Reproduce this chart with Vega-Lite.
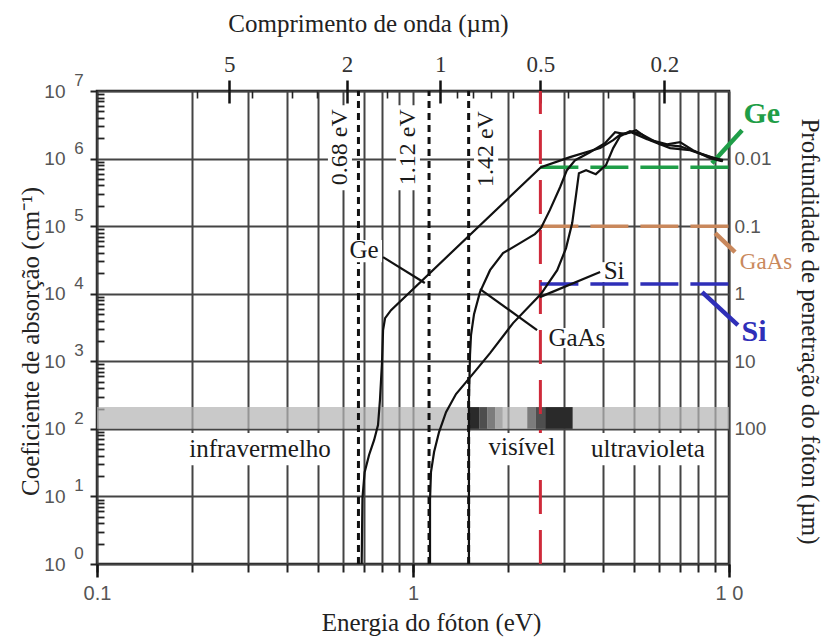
{
  "$schema": "https://vega.github.io/schema/vega-lite/v6.json",
  "width": 632,
  "height": 473,
  "autosize": {"type": "none"},
  "padding": {"left": 97, "top": 91, "right": 97, "bottom": 74},
  "background": "white",
  "config": {"view": {"stroke": "#1a1a1a", "strokeWidth": 2.5}},
  "resolve": {"axis": {"x": "independent", "y": "independent"}},
  "datasets": {
    "band": [{"E1": 0.1, "E2": 10, "a1": 100, "a2": 210}],
    "bandDark": [
      {"E1": 1.5, "E2": 1.62, "a1": 100, "a2": 210, "t": "4"},
      {"E1": 1.62, "E2": 1.72, "a1": 100, "a2": 210, "t": "3"},
      {"E1": 1.72, "E2": 1.82, "a1": 100, "a2": 210, "t": "2"},
      {"E1": 1.82, "E2": 1.92, "a1": 100, "a2": 210, "t": "1"},
      {"E1": 2.3, "E2": 2.45, "a1": 100, "a2": 210, "t": "2"},
      {"E1": 2.45, "E2": 2.62, "a1": 100, "a2": 210, "t": "3"},
      {"E1": 2.62, "E2": 3.2, "a1": 100, "a2": 210, "t": "4"}
    ],
    "gaps": [{"E": 0.672}, {"E": 1.124}, {"E": 1.5}],
    "red": [{"E": 2.53}],
    "mask": [
      {"E1": 0.187, "E2": 0.583, "a1": 29, "a2": 87},
      {"E1": 1.69, "E2": 2.92, "a1": 29, "a2": 87},
      {"E1": 3.5, "E2": 8.83, "a1": 29, "a2": 87},
      {"E1": 0.538, "E2": 0.641, "a1": 341000, "a2": 6170000},
      {"E1": 0.884, "E2": 1.052, "a1": 341000, "a2": 6170000},
      {"E1": 1.56, "E2": 1.86, "a1": 341000, "a2": 6170000},
      {"E1": 0.614, "E2": 0.798, "a1": 29300, "a2": 62100},
      {"E1": 2.62, "E2": 4.14, "a1": 1570, "a2": 3100},
      {"E1": 3.91, "E2": 4.79, "a1": 14900, "a2": 29300}
    ],
    "depth": [
      {"mat": "Ge", "E1": 2.53, "E2": 10, "a": 746000},
      {"mat": "GaAs", "E1": 2.53, "E2": 10, "a": 100000},
      {"mat": "Si", "E1": 2.53, "E2": 10, "a": 13900}
    ],
    "leadC": [
      {"mat": "Ge", "E1": 8.83, "a1": 855000, "E2": 11.0, "a2": 2630000},
      {"mat": "GaAs", "E1": 9.04, "a1": 78800, "E2": 10.45, "a2": 41200},
      {"mat": "Si", "E1": 8.22, "a1": 10560, "E2": 10.67, "a2": 3430}
    ],
    "labC": [
      {"mat": "Ge", "E": 12.7, "a": 4540000},
      {"mat": "GaAs", "E": 13.1, "a": 29300},
      {"mat": "Si", "E": 12.0, "a": 2700}
    ],
    "leadK": [
      {"E1": 0.804, "a1": 34800, "E2": 1.09, "a2": 14400},
      {"E1": 1.63, "a1": 11700, "E2": 2.47, "a2": 2900},
      {"E1": 2.52, "a1": 8900, "E2": 3.91, "a2": 20900}
    ],
    "labK": [
      {"t": "infravermelho", "E": 0.328, "a": 50},
      {"t": "visível", "E": 2.21, "a": 53.8},
      {"t": "ultravioleta", "E": 5.54, "a": 50},
      {"t": "Ge", "E": 0.7, "a": 44200},
      {"t": "GaAs", "E": 3.3, "a": 2200},
      {"t": "Si", "E": 4.33, "a": 21600}
    ],
    "labEV": [
      {"t": "0.68 eV", "E": 0.588, "a": 1470000},
      {"t": "1.12 eV", "E": 0.964, "a": 1470000},
      {"t": "1.42 eV", "E": 1.7, "a": 1380000}
    ],
    "exps": [
      {"a": 1, "s": "0"}, {"a": 10, "s": "1"}, {"a": 100, "s": "2"}, {"a": 1000, "s": "3"},
      {"a": 10000, "s": "4"}, {"a": 100000, "s": "5"}, {"a": 1000000, "s": "6"}, {"a": 10000000, "s": "7"}
    ],
    "curves": [
      {"mat": "Ge", "i": 1, "E": 0.688, "a": 1},
      {"mat": "Ge", "i": 2, "E": 0.69, "a": 3.18},
      {"mat": "Ge", "i": 3, "E": 0.692, "a": 9.47},
      {"mat": "Ge", "i": 4, "E": 0.703, "a": 22.9},
      {"mat": "Ge", "i": 5, "E": 0.726, "a": 41},
      {"mat": "Ge", "i": 6, "E": 0.753, "a": 68},
      {"mat": "Ge", "i": 7, "E": 0.775, "a": 114},
      {"mat": "Ge", "i": 8, "E": 0.786, "a": 267},
      {"mat": "Ge", "i": 9, "E": 0.798, "a": 973},
      {"mat": "Ge", "i": 10, "E": 0.804, "a": 2900},
      {"mat": "Ge", "i": 11, "E": 0.816, "a": 4360},
      {"mat": "Ge", "i": 12, "E": 0.852, "a": 5720},
      {"mat": "Ge", "i": 13, "E": 2.54, "a": 746000},
      {"mat": "Ge", "i": 14, "E": 3.14, "a": 1050000},
      {"mat": "Ge", "i": 15, "E": 3.91, "a": 1430000},
      {"mat": "Ge", "i": 16, "E": 4.3, "a": 1870000},
      {"mat": "Ge", "i": 17, "E": 4.55, "a": 2300000},
      {"mat": "Ge", "i": 18, "E": 4.9, "a": 2460000},
      {"mat": "Ge", "i": 19, "E": 5.5, "a": 1940000},
      {"mat": "Ge", "i": 20, "E": 6.37, "a": 1630000},
      {"mat": "Ge", "i": 21, "E": 7.0, "a": 1750000},
      {"mat": "Ge", "i": 22, "E": 7.69, "a": 1330000},
      {"mat": "Ge", "i": 23, "E": 8.71, "a": 1010000},
      {"mat": "Ge", "i": 24, "E": 9.5, "a": 916000},
      {"mat": "GaAs", "i": 1, "E": 1.503, "a": 1},
      {"mat": "GaAs", "i": 2, "E": 1.503, "a": 17.5},
      {"mat": "GaAs", "i": 3, "E": 1.503, "a": 267},
      {"mat": "GaAs", "i": 4, "E": 1.515, "a": 1236},
      {"mat": "GaAs", "i": 5, "E": 1.526, "a": 2440},
      {"mat": "GaAs", "i": 6, "E": 1.56, "a": 4990},
      {"mat": "GaAs", "i": 7, "E": 1.629, "a": 10560},
      {"mat": "GaAs", "i": 8, "E": 1.753, "a": 22300},
      {"mat": "GaAs", "i": 9, "E": 1.927, "a": 39900},
      {"mat": "GaAs", "i": 10, "E": 2.18, "a": 56000},
      {"mat": "GaAs", "i": 11, "E": 2.43, "a": 76200},
      {"mat": "GaAs", "i": 12, "E": 2.54, "a": 93400},
      {"mat": "GaAs", "i": 13, "E": 2.71, "a": 172600},
      {"mat": "GaAs", "i": 14, "E": 2.92, "a": 377000},
      {"mat": "GaAs", "i": 15, "E": 3.07, "a": 673000},
      {"mat": "GaAs", "i": 16, "E": 3.26, "a": 947000},
      {"mat": "GaAs", "i": 17, "E": 3.63, "a": 1240000},
      {"mat": "GaAs", "i": 18, "E": 4.05, "a": 1690000},
      {"mat": "GaAs", "i": 19, "E": 4.36, "a": 2460000},
      {"mat": "GaAs", "i": 20, "E": 4.69, "a": 2300000},
      {"mat": "GaAs", "i": 21, "E": 5.08, "a": 2630000},
      {"mat": "GaAs", "i": 22, "E": 5.62, "a": 1870000},
      {"mat": "GaAs", "i": 23, "E": 6.51, "a": 1430000},
      {"mat": "GaAs", "i": 24, "E": 7.53, "a": 1330000},
      {"mat": "GaAs", "i": 25, "E": 8.71, "a": 1050000},
      {"mat": "GaAs", "i": 26, "E": 9.57, "a": 947000},
      {"mat": "Si", "i": 1, "E": 1.132, "a": 1},
      {"mat": "Si", "i": 2, "E": 1.132, "a": 8.85},
      {"mat": "Si", "i": 3, "E": 1.14, "a": 22.9},
      {"mat": "Si", "i": 4, "E": 1.166, "a": 45.4},
      {"mat": "Si", "i": 5, "E": 1.209, "a": 89.7},
      {"mat": "Si", "i": 6, "E": 1.272, "a": 177},
      {"mat": "Si", "i": 7, "E": 1.368, "a": 327},
      {"mat": "Si", "i": 8, "E": 1.472, "a": 492},
      {"mat": "Si", "i": 9, "E": 1.583, "a": 741},
      {"mat": "Si", "i": 10, "E": 1.753, "a": 1322},
      {"mat": "Si", "i": 11, "E": 2.073, "a": 3673},
      {"mat": "Si", "i": 12, "E": 2.54, "a": 9860},
      {"mat": "Si", "i": 13, "E": 2.86, "a": 22300},
      {"mat": "Si", "i": 14, "E": 3.05, "a": 47300},
      {"mat": "Si", "i": 15, "E": 3.19, "a": 111000},
      {"mat": "Si", "i": 16, "E": 3.28, "a": 288000},
      {"mat": "Si", "i": 17, "E": 3.35, "a": 608000},
      {"mat": "Si", "i": 18, "E": 3.53, "a": 673000},
      {"mat": "Si", "i": 19, "E": 3.79, "a": 588000},
      {"mat": "Si", "i": 20, "E": 4.08, "a": 798000},
      {"mat": "Si", "i": 21, "E": 4.3, "a": 1430000},
      {"mat": "Si", "i": 22, "E": 4.52, "a": 2140000},
      {"mat": "Si", "i": 23, "E": 4.86, "a": 2540000},
      {"mat": "Si", "i": 24, "E": 5.27, "a": 2300000},
      {"mat": "Si", "i": 25, "E": 6.05, "a": 1630000},
      {"mat": "Si", "i": 26, "E": 7.0, "a": 1520000},
      {"mat": "Si", "i": 27, "E": 8.09, "a": 1200000},
      {"mat": "Si", "i": 28, "E": 9.03, "a": 1010000},
      {"mat": "Si", "i": 29, "E": 9.57, "a": 916000}
    ]
  },
  "layer": [
    {
      "data": {"name": "band"},
      "mark": {"type": "rect", "color": "#b4b4b4", "opacity": 0.72},
      "encoding": {
        "x": {"field": "E1", "type": "quantitative", "scale": {"type": "log", "domain": [0.1, 10], "nice": false},
          "axis": {"orient": "bottom", "values": [0.1,0.2,0.3,0.4,0.5,0.6,0.7,0.8,0.9,1,2,3,4,5,6,7,8,9,10], "grid": true, "gridColor": "#444", "gridWidth": 2, "gridOpacity": 1, "ticks": true, "tickSize": 8, "tickWidth": 2, "tickColor": "#222", "labels": false, "domain": false, "title": null}},
        "x2": {"field": "E2"},
        "y": {"field": "a1", "type": "quantitative", "scale": {"type": "log", "domain": [1, 10000000], "nice": false},
          "axis": {"orient": "left", "values": [1,10,100,1000,10000,100000,1000000,10000000], "grid": true, "gridColor": "#444", "gridWidth": 2, "gridOpacity": 1, "tickSize": 7, "tickWidth": 2, "tickColor": "#222", "domain": false, "labelExpr": "'10'", "labelFont": "Liberation Sans", "labelFontSize": 19, "labelColor": "#555", "labelPadding": 25, "labelOverlap": false, "labelFlush": false, "labelBaseline": "middle", "title": "Coeficiente de absorção (cm⁻¹)", "titleFont": "Liberation Serif", "titleFontSize": 25, "titleFontWeight": "normal", "titleColor": "#222", "titlePadding": 0, "titleY": 250}},
        "y2": {"field": "a2"}
      }
    },
    {
      "data": {"name": "bandDark"},
      "mark": {"type": "rect"},
      "encoding": {
        "x": {"field": "E1", "type": "quantitative", "scale": {"type": "log", "domain": [0.1, 10], "nice": false}, "axis": null},
        "x2": {"field": "E2"},
        "y": {"field": "a1", "type": "quantitative", "scale": {"type": "log", "domain": [1, 10000000], "nice": false}, "axis": null},
        "y2": {"field": "a2"},
        "fill": {"field": "t", "type": "nominal", "scale": {"domain": ["1","2","3","4"], "range": ["#a8a8a8","#7c7c7c","#4e4e4e","#2a2a2a"]}, "legend": null}
      }
    },
    {
      "data": {"name": "gaps"},
      "mark": {"type": "rule", "color": "#111", "strokeWidth": 3, "strokeDash": [7, 5]},
      "encoding": {
        "x": {"field": "E", "type": "quantitative", "scale": {"type": "log", "domain": [0.1, 10], "nice": false},
          "axis": {"orient": "bottom", "values": [0.1, 1, 10], "grid": false, "domain": false, "tickSize": 13, "tickWidth": 2.5, "tickColor": "#111", "labelExpr": "datum.value < 0.5 ? '0.1' : datum.value < 5 ? '1' : '1 0'", "labelFont": "Liberation Sans", "labelFontSize": 20, "labelColor": "#555", "labelPadding": 6, "labelOverlap": false, "labelFlush": false, "title": "Energia do fóton (eV)", "titleFont": "Liberation Serif", "titleFontSize": 25, "titleFontWeight": "normal", "titleColor": "#222", "titleX": 334, "titleY": 66, "titleBaseline": "alphabetic"}},
        "y": {"datum": 1, "type": "quantitative", "scale": {"type": "log", "domain": [1, 10000000], "nice": false},
          "axis": {"orient": "right", "values": [100, 1000, 10000, 100000, 1000000], "ticks": false, "grid": false, "domain": false, "labelExpr": "datum.value < 500 ? '100' : datum.value < 5000 ? '10' : datum.value < 50000 ? '1' : datum.value < 500000 ? '0.1' : '0.01'", "labelFont": "Liberation Sans", "labelFontSize": 19, "labelColor": "#555", "labelPadding": 5, "labelOverlap": false, "labelFlush": false, "title": "Profundidade de penetração do fóton (µm)", "titleFont": "Liberation Serif", "titleFontSize": 25, "titleFontWeight": "normal", "titleColor": "#222", "titleY": 240, "titlePadding": 26}},
        "y2": {"datum": 10000000}
      }
    },
    {
      "data": {"name": "red"},
      "mark": {"type": "rule", "color": "#cf2a3a", "strokeWidth": 3, "strokeDash": [34, 16]},
      "encoding": {
        "x": {"field": "E", "type": "quantitative", "scale": {"type": "log", "domain": [0.1, 10], "nice": false},
          "axis": {"orient": "top", "offset": -12, "values": [0.262, 0.618, 1.22, 2.53, 6.25], "grid": false, "domain": false, "labels": false, "tickSize": 12, "tickWidth": 2.5, "tickColor": "#111", "title": null}},
        "y": {"datum": 1, "type": "quantitative", "scale": {"type": "log", "domain": [1, 10000000], "nice": false},
          "axis": {"orient": "left", "offset": -7, "values": [2,3,4,5,6,7,8,9,20,30,40,50,60,70,80,90,200,300,400,500,600,700,800,900,2000,3000,4000,5000,6000,7000,8000,9000,20000,30000,40000,50000,60000,70000,80000,90000,200000,300000,400000,500000,600000,700000,800000,900000,2000000,3000000,4000000,5000000,6000000,7000000,8000000,9000000], "grid": false, "labels": false, "domain": false, "tickSize": 7, "tickWidth": 1.8, "tickColor": "#222", "title": null}},
        "y2": {"datum": 10000000}
      }
    },
    {
      "data": {"name": "mask"},
      "mark": {"type": "rect", "color": "white", "opacity": 1},
      "encoding": {
        "x": {"field": "E1", "type": "quantitative", "scale": {"type": "log", "domain": [0.1, 10], "nice": false},
          "axis": {"orient": "top", "values": [0.262, 0.618, 1.22, 2.53, 6.25], "grid": false, "domain": false, "tickSize": 11, "tickWidth": 2.5, "tickColor": "#111", "labelExpr": "datum.value < 0.4 ? '5' : datum.value < 0.9 ? '2' : datum.value < 2 ? '1' : datum.value < 4 ? '0.5' : '0.2'", "labelFont": "Liberation Serif", "labelFontSize": 23, "labelColor": "#333", "labelPadding": 4, "labelOverlap": false, "labelFlush": false, "title": "Comprimento de onda (µm)", "titleFont": "Liberation Serif", "titleFontSize": 25, "titleFontWeight": "normal", "titleColor": "#222", "titleX": 271, "titleY": -60, "titleBaseline": "alphabetic"}},
        "x2": {"field": "E2"},
        "y": {"field": "a1", "type": "quantitative", "scale": {"type": "log", "domain": [1, 10000000], "nice": false}, "axis": null},
        "y2": {"field": "a2"}
      }
    },
    {
      "data": {"name": "depth"},
      "mark": {"type": "rule", "strokeWidth": 3.5, "strokeDash": [38, 12]},
      "encoding": {
        "x": {"field": "E1", "type": "quantitative", "scale": {"type": "log", "domain": [0.1, 10], "nice": false},
          "axis": {"orient": "top", "offset": -7, "values": [0.2067, 0.31, 0.4133, 0.496, 0.8267, 1.378, 1.55, 1.771, 2.067, 3.1, 4.133, 4.96], "grid": false, "domain": false, "labels": false, "tickSize": 7, "tickWidth": 1.6, "tickColor": "#222", "title": null}},
        "x2": {"field": "E2"},
        "y": {"field": "a", "type": "quantitative", "scale": {"type": "log", "domain": [1, 10000000], "nice": false}, "axis": null},
        "stroke": {"field": "mat", "type": "nominal", "scale": {"domain": ["Ge", "GaAs", "Si"], "range": ["#1f9e48", "#c9885c", "#2f2fb8"]}, "legend": null}
      }
    },
    {
      "data": {"name": "leadC"},
      "mark": {"type": "rule", "strokeWidth": 4.5},
      "encoding": {
        "x": {"field": "E1", "type": "quantitative", "scale": {"type": "log", "domain": [0.1, 10], "nice": false}, "axis": null},
        "x2": {"field": "E2"},
        "y": {"field": "a1", "type": "quantitative", "scale": {"type": "log", "domain": [1, 10000000], "nice": false}, "axis": null},
        "y2": {"field": "a2"},
        "stroke": {"field": "mat", "type": "nominal", "scale": {"domain": ["Ge", "GaAs", "Si"], "range": ["#1f9e48", "#c9885c", "#2f2fb8"]}, "legend": null}
      }
    },
    {
      "data": {"name": "curves"},
      "mark": {"type": "line", "color": "#111", "strokeWidth": 2.2},
      "encoding": {
        "x": {"field": "E", "type": "quantitative", "scale": {"type": "log", "domain": [0.1, 10], "nice": false}, "axis": null},
        "y": {"field": "a", "type": "quantitative", "scale": {"type": "log", "domain": [1, 10000000], "nice": false}, "axis": null},
        "detail": {"field": "mat", "type": "nominal"},
        "order": {"field": "i", "type": "quantitative"}
      }
    },
    {
      "data": {"name": "leadK"},
      "mark": {"type": "rule", "color": "#111", "strokeWidth": 2.2},
      "encoding": {
        "x": {"field": "E1", "type": "quantitative", "scale": {"type": "log", "domain": [0.1, 10], "nice": false}, "axis": null},
        "x2": {"field": "E2"},
        "y": {"field": "a1", "type": "quantitative", "scale": {"type": "log", "domain": [1, 10000000], "nice": false}, "axis": null},
        "y2": {"field": "a2"}
      }
    },
    {
      "data": {"name": "labK"},
      "mark": {"type": "text", "font": "Liberation Serif", "fontSize": 25, "color": "#1a1a1a", "align": "center", "baseline": "middle"},
      "encoding": {
        "x": {"field": "E", "type": "quantitative", "scale": {"type": "log", "domain": [0.1, 10], "nice": false}, "axis": null},
        "y": {"field": "a", "type": "quantitative", "scale": {"type": "log", "domain": [1, 10000000], "nice": false}, "axis": null},
        "text": {"field": "t"}
      }
    },
    {
      "data": {"name": "labEV"},
      "mark": {"type": "text", "font": "Liberation Serif", "fontSize": 24, "color": "#1a1a1a", "align": "center", "baseline": "middle", "angle": -90},
      "encoding": {
        "x": {"field": "E", "type": "quantitative", "scale": {"type": "log", "domain": [0.1, 10], "nice": false}, "axis": null},
        "y": {"field": "a", "type": "quantitative", "scale": {"type": "log", "domain": [1, 10000000], "nice": false}, "axis": null},
        "text": {"field": "t"}
      }
    },
    {
      "data": {"name": "labC"},
      "transform": [{"filter": "datum.mat != 'GaAs'"}],
      "mark": {"type": "text", "font": "Liberation Serif", "fontSize": 30, "fontWeight": "bold", "align": "center", "baseline": "middle"},
      "encoding": {
        "x": {"field": "E", "type": "quantitative", "scale": {"type": "log", "domain": [0.1, 10], "nice": false}, "axis": null},
        "y": {"field": "a", "type": "quantitative", "scale": {"type": "log", "domain": [1, 10000000], "nice": false}, "axis": null},
        "text": {"field": "mat"},
        "color": {"field": "mat", "type": "nominal", "scale": {"domain": ["Ge", "GaAs", "Si"], "range": ["#1f9e48", "#c9885c", "#2f2fb8"]}, "legend": null}
      }
    },
    {
      "data": {"name": "labC"},
      "transform": [{"filter": "datum.mat == 'GaAs'"}],
      "mark": {"type": "text", "font": "Liberation Serif", "fontSize": 23, "align": "center", "baseline": "middle"},
      "encoding": {
        "x": {"field": "E", "type": "quantitative", "scale": {"type": "log", "domain": [0.1, 10], "nice": false}, "axis": null},
        "y": {"field": "a", "type": "quantitative", "scale": {"type": "log", "domain": [1, 10000000], "nice": false}, "axis": null},
        "text": {"field": "mat"},
        "color": {"field": "mat", "type": "nominal", "scale": {"domain": ["Ge", "GaAs", "Si"], "range": ["#1f9e48", "#c9885c", "#2f2fb8"]}, "legend": null}
      }
    },
    {
      "data": {"name": "exps"},
      "mark": {"type": "text", "font": "Liberation Sans", "fontSize": 17, "color": "#555", "align": "center", "baseline": "middle", "dx": -18, "dy": -10},
      "encoding": {
        "x": {"datum": 0.1, "type": "quantitative", "scale": {"type": "log", "domain": [0.1, 10], "nice": false}, "axis": null},
        "y": {"field": "a", "type": "quantitative", "scale": {"type": "log", "domain": [1, 10000000], "nice": false}, "axis": null},
        "text": {"field": "s"}
      }
    }
  ]
}
